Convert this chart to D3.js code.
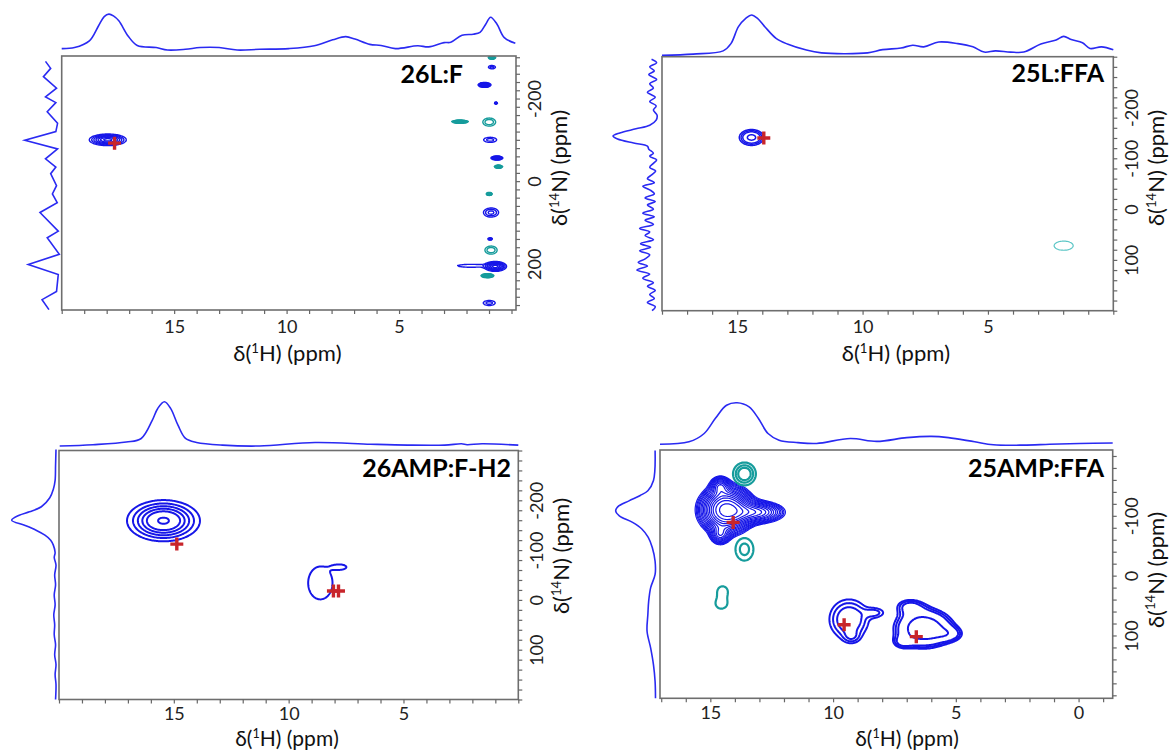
<!DOCTYPE html>
<html>
<head>
<meta charset="utf-8">
<script src="https://cdn.jsdelivr.net/npm/d3@7"></script>
<style>
body { margin: 0; background: #fff; }
svg text { font-family: Lato, "Open Sans", sans-serif; }
</style>
</head>
<body>
<svg id="fig" width="1171" height="751"></svg>
<script>
// ---------- data (ppm, relative intensity) ----------
// projections: [1H ppm, intensity] / [14N ppm, intensity]
var p1Top = [[20,0.02],[19.43,0.05],[18.77,0.24],[18.36,0.67],[18.11,0.93],[17.9,1],[17.7,0.95],[17.46,0.81],[17.05,0.38],[16.64,0.11],[15.8,0.05],[15.3,-0.02],[14.5,0],[13.85,0.05],[13.0,0.05],[12.2,-0.02],[11.2,0],[9.9,0.02],[8.77,0.1],[7.95,0.27],[7.37,0.36],[6.96,0.29],[6.3,0.14],[5.8,0.11],[5.16,0.02],[4.17,0.1],[3.68,0.07],[3.0,0.19],[2.7,0.2],[2.2,0.4],[1.7,0.43],[1.4,0.48],[1.14,0.72],[0.93,0.91],[0.65,0.72],[0.32,0.33],[-0.17,0.17]];
var p1Left = [[-290,0.4],[-273,0.25],[-253,0.46],[-225,0.08],[-204,0.4],[-190,0.1],[-168,0.35],[-140,0.05],[-120,0.1],[-99,1.0],[-78,0.05],[-54,0.4],[-34,0.1],[-18,0.25],[11,0.08],[31,0.2],[52,0.06],[76,0.56],[121,0.03],[137,0.35],[177,0.0],[202,0.9],[226,0.03],[267,0.08],[287,0.5],[311,0.3]];

var p2Top = [[18,0],[16.76,0.03],[15.56,0.11],[15.25,0.29],[14.95,0.71],[14.65,0.92],[14.43,1.0],[14.2,0.92],[13.9,0.71],[13.45,0.42],[13.0,0.28],[12.24,0.13],[11.64,0.06],[10.73,0.04],[9.8,0.06],[9.2,0.14],[8.47,0.18],[8.0,0.25],[7.56,0.21],[6.96,0.33],[6.2,0.29],[5.6,0.21],[5.15,0.08],[4.7,0.11],[4.1,0.08],[3.57,0.08],[2.89,0.28],[2.28,0.38],[1.98,0.47],[1.68,0.39],[1.23,0.31],[0.93,0.17],[0.47,0.21],[0,0.14]];
var p2Left = [[-295,0.16],[-288,0.05],[-280,0.2],[-272,0.1],[-265,0.22],[-255,0.05],[-247,0.2],[-238,0.12],[-230,0.25],[-220,0.08],[-212,0.2],[-203,0.06],[-195,0.12],[-185,0.04],[-175,0.06],[-165,0.2],[-158,0.5],[-150,0.85],[-144,1.0],[-138,0.9],[-130,0.55],[-124,0.25],[-118,0.22],[-110,0.12],[-104,0.2],[-97,0.05],[-90,0.12],[-82,0.2],[-75,0.07],[-68,0.15],[-60,0.25],[-52,0.1],[-45,0.35],[-38,0.2],[-30,0.1],[-22,0.3],[-15,0.08],[-8,0.25],[0,0.12],[8,0.35],[15,0.1],[22,0.3],[30,0.12],[38,0.42],[45,0.2],[52,0.3],[60,0.12],[68,0.4],[75,0.18],[82,0.42],[90,0.2],[98,0.3],[105,0.45],[112,0.25],[120,0.48],[128,0.2],[136,0.35],[145,0.12],[152,0.25],[160,0.08],[168,0.2],[176,0.1],[184,0.25],[192,0.08],[200,0.15]];

var p3Top = [[19.97,0],[18.52,0.03],[17.07,0.09],[16.42,0.17],[15.94,0.58],[15.7,0.85],[15.41,1.0],[15.14,0.85],[14.82,0.47],[14.49,0.17],[14.01,0.08],[12.88,0.02],[11.27,0],[8.85,0.08],[6.43,0.04],[4.81,0.02],[3.2,0.02],[2.47,0.05],[2.23,0.03],[1.58,0.05],[0,0.02]];
var p3Left = [[-302,0.0],[-270,0.01],[-240,0.02],[-222,0.06],[-205,0.14],[-187,0.33],[-177,0.6],[-170,0.83],[-160,1.0],[-150,0.71],[-140,0.45],[-130,0.25],[-120,0.12],[-110,0.06],[-95,0.02],[-85,0.04],[-70,0.0],[-50,0.03],[-30,0.01],[-10,0.04],[10,0.02],[30,0.05],[50,0.03],[70,0.04],[90,0.01],[110,0.03],[130,0.0],[150,0.02],[170,0.0],[200,0.01]];

var p4Top = [[17.05,0],[15.87,0.06],[15.25,0.26],[14.8,0.62],[14.34,0.94],[13.91,1.0],[13.42,0.9],[13.04,0.62],[12.65,0.26],[12.2,0.1],[11.43,0.04],[10.67,0.02],[9.3,0.14],[8.22,0.07],[7.0,0.16],[6.0,0.19],[5.3,0.16],[4.23,0.06],[3.47,-0.01],[2.25,-0.02],[1.18,0],[-0.04,0.02],[-1.39,0.03]];
var p4Left = [[-209,0.02],[-159,0.06],[-142,0.2],[-134,0.39],[-125,0.67],[-115,0.95],[-108,1.0],[-100,0.91],[-89,0.58],[-78,0.35],[-64,0.19],[-47,0.09],[-24,0.02],[-2,0.02],[20,0.13],[43,0.18],[65,0.2],[93,0.22],[121,0.13],[149,0.06],[177,0.02],[205,0.01]];

// cross peaks: [1H ppm, 14N ppm, sigma 1H, sigma 14N, amplitude]
var p1Blue = [[17.95,-100,0.4,6.8,1],[0.87,-276,0.13,3.3,0.25],[1.2,-233,0.14,2.8,1],[0.69,-189,0.04,1.4,0.5],[0.95,-100,0.24,5,0.25],[0.65,-56,0.13,2.3,1],[0.91,76,0.23,7.5,0.35],[0.95,140,0.065,1.4,0.5],[0.72,206.5,0.24,5.8,1],[1.8,205,0.6,3.5,0.2],[0.99,295,0.22,5,0.25]];
var p1Teal = [[0.87,-299,0.08,1.75,1],[2.29,-144,0.18,1.75,1],[0.99,-143,0.21,7.2,0.3],[0.58,-35,0.09,1.75,1],[0.99,31,0.065,1.75,1],[0.91,167,0.2,7.2,0.3],[1.07,229,0.14,2.3,1]];
var p2Blue = [[14.43,-141,0.25,8,1]];
var p2Teal = [[1.98,72,0.195,4.6,1]];
var p3Main = [[15.45,-159,0.74,19.3,1]];
var p3Blob = [[8.62,-34,0.45,28,1],[7.75,-66,0.28,5,0.75]];
var p4Main = [[14.35,-110,0.55,20,1],[13.1,-106,0.6,10,0.45],[14.6,-150,0.22,9,0.3],[14.6,-68,0.22,9,0.3]];
var p4Teal = [[13.61,-170,0.3,12.3,1],[13.61,-44,0.31,16,0.6],[14.5,26,0.22,9,0.45],[14.55,47,0.25,9,0.45]];
var p4Low1 = [[9.35,73,0.48,20,1],[8.3,62,0.3,6,0.45],[9.25,102,0.22,7,0.4]];
var p4Low2 = [[6.3,88,0.8,22,1],[6.9,50,0.45,10,0.35],[5.2,98,0.4,9,0.3],[7.2,112,0.3,8,0.25]];

// contour levels
var p1Levels = [0.12, 0.2, 0.3, 0.42, 0.56, 0.72, 0.9];
var p2Levels = [0.15, 0.25, 0.38, 0.8];
var p2TealLevels = [0.15];
var p3Levels = [0.1, 0.2, 0.32, 0.46, 0.62, 0.95];
var p3BlobLevels = [0.5];
var p4MainLevels = [0.07, 0.085, 0.1, 0.12, 0.14, 0.17, 0.2, 0.24, 0.28, 0.33, 0.39, 0.46, 0.54, 0.63, 0.75, 0.9];
var p4TealLevels = [0.3, 0.5, 0.7];
var p4Low1Levels = [0.25, 0.4, 0.6];
var p4Low2Levels = [0.3, 0.36, 0.43, 0.72];

// calculated positions (red crosses): [1H ppm, 14N ppm]
var p1Marks = [[17.65,-92]];
var p2Marks = [[13.94,-140]];
var p3Marks = [[14.87,-112],[8.05,-18],[7.83,-18]];
var p4Marks = [[14.07,-89],[9.55,82],[6.61,102]];

// tick labels
var p1HLabels = [15,10,5], p1NLabels = [-200,0,200];
var p2HLabels = [15,10,5], p2NLabels = [-200,-100,0,100];
var p3HLabels = [15,10,5], p3NLabels = [-200,-100,0,100];
var p4HLabels = [15,10,5,0], p4NLabels = [-100,0,100];

var titles = ["26L:F", "25L:FFA", "26AMP:F-H2", "25AMP:FFA"];

// ---------- drawing ----------
var svg = d3.select("#fig");
var BLUE = "#1616e8", LINE = "#2a2af2", TEAL = "#169c9c", RED = "#c8252b";

var panels = [
  {box:[61.7,56,516,310], h:[20,-0.2], n:[-303,312], topY:[49.3,14.1], leftX:[59.3,24.8],
   hTicks:d3.range(20,-0.05,-1), nTicks:d3.range(-300,312,20), hLab:p1HLabels, nLab:p1NLabels, pad:6, xfs:22,
   top:p1Top, left:p1Left, leftCurve:d3.curveLinear, marks:p1Marks, title:titles[0], tPos:[463,83], xt:[287.5,361], yt:168,
   groups:[{peaks:p1Blue, levels:p1Levels, color:BLUE, w:1.4},{peaks:p1Teal, levels:p1Levels, color:TEAL, w:1.4}]},
  {box:[662,56.7,1113.3,310.7], h:[18,0], n:[-300,200], topY:[55.3,15], leftX:[658.9,613],
   hTicks:d3.range(18,-0.05,-1), nTicks:d3.range(-300,201,20), hLab:p2HLabels, nLab:p2NLabels, pad:6, xfs:22,
   top:p2Top, left:p2Left, leftCurve:d3.curveCatmullRom, marks:p2Marks, title:titles[1], tPos:[1104,82], xt:[896,361], yt:168,
   groups:[{peaks:p2Blue, levels:p2Levels, color:BLUE, w:1.5},{peaks:p2Teal, levels:p2TealLevels, color:"#5cc6c6", w:1.2}]},
  {box:[59,450.5,518.3,699.5], h:[20,0], n:[-300,200], topY:[446,401.8], leftX:[56,11.7],
   hTicks:d3.range(20,-0.05,-1), nTicks:d3.range(-300,201,20), hLab:p3HLabels, nLab:p3NLabels, pad:4, xfs:21,
   top:p3Top, left:p3Left, leftCurve:d3.curveCatmullRom, marks:p3Marks, title:titles[2], tPos:[511,477], xt:[287,746], yt:556,
   groups:[{peaks:p3Main, levels:p3Levels, color:BLUE, w:2},{peaks:p3Blob, levels:p3BlobLevels, color:BLUE, w:2}]},
  {box:[660,450,1112.7,698.3], h:[17.05,-1.39], n:[-210,205], topY:[444.3,402.8], leftX:[655.9,615.7],
   hTicks:d3.range(17,-1.05,-1), nTicks:d3.range(-200,205,20), hLab:p4HLabels, nLab:p4NLabels, pad:4, xfs:21,
   top:p4Top, left:p4Left, leftCurve:d3.curveCatmullRom, marks:p4Marks, title:titles[3], tPos:[1104,477], xt:[907,746], yt:570,
   groups:[{peaks:p4Main, levels:p4MainLevels, color:BLUE, w:1.2},{peaks:p4Teal, levels:p4TealLevels, color:TEAL, w:2.2},
           {peaks:p4Low1, levels:p4Low1Levels, color:BLUE, w:2},{peaks:p4Low2, levels:p4Low2Levels, color:BLUE, w:2}]}
];

function has(arr, v) {
  return arr.some(function(a){ return Math.abs(a - v) < 1e-6; });
}

function drawContours(g, x, y, box, gr, clipId) {
  var W = Math.round(box[2] - box[0]), H = Math.round(box[3] - box[1]);
  var vals = new Float64Array(W * H);
  gr.peaks.forEach(function(p) {
    for (var j = 0; j < H; j++) {
      var dn = (y.invert(box[1] + j + 0.5) - p[1]) / p[3];
      if (Math.abs(dn) > 5) continue;
      for (var i = 0; i < W; i++) {
        var dh = (x.invert(box[0] + i + 0.5) - p[0]) / p[2];
        if (Math.abs(dh) > 5) continue;
        vals[j * W + i] += p[4] * Math.exp(-0.5 * (dh * dh + dn * dn));
      }
    }
  });
  var cs = d3.contours().size([W, H]).thresholds(gr.levels)(vals);
  g.append("g")
    .attr("clip-path", "url(#" + clipId + ")")
    .append("g")
    .attr("transform", "translate(" + box[0] + "," + box[1] + ")")
    .selectAll("path").data(cs).join("path")
    .attr("d", d3.geoPath())
    .attr("fill", "none")
    .attr("stroke", gr.color)
    .attr("stroke-width", gr.w)
    .attr("stroke-linejoin", "round");
}

function supText(sel, before, sup, after, size) {
  sel.append("tspan").text(before);
  sel.append("tspan").attr("font-size", size * 0.6).attr("dy", -size * 0.38).text(sup);
  sel.append("tspan").attr("dy", size * 0.38).text(after);
}

panels.forEach(function(cfg, k) {
  var b = cfg.box;
  var g = svg.append("g");
  var x = d3.scaleLinear().domain(cfg.h).range([b[0], b[2]]);
  var y = d3.scaleLinear().domain(cfg.n).range([b[1], b[3]]);
  var clipId = "clip" + k;
  svg.append("clipPath").attr("id", clipId).append("rect")
    .attr("x", b[0]).attr("y", b[1]).attr("width", b[2] - b[0]).attr("height", b[3] - b[1]);

  cfg.groups.forEach(function(gr) { drawContours(g, x, y, b, gr, clipId); });

  // calculated positions
  g.selectAll("path.mark").data(cfg.marks).join("path")
    .attr("class", "mark")
    .attr("d", function(d) {
      var cx = x(d[0]), cy = y(d[1]), r = 6.5;
      return "M" + (cx - r) + "," + cy + "H" + (cx + r) + "M" + cx + "," + (cy - r) + "V" + (cy + r);
    })
    .attr("stroke", RED).attr("stroke-width", 3.4).attr("fill", "none");

  // frame
  g.append("rect").attr("x", b[0]).attr("y", b[1]).attr("width", b[2] - b[0]).attr("height", b[3] - b[1])
    .attr("fill", "none").attr("stroke", "#6e6e6e").attr("stroke-width", 1.6);

  // axes
  var xa = g.append("g").attr("transform", "translate(0," + b[3] + ")")
    .call(d3.axisBottom(x).tickValues(cfg.hTicks).tickSize(4).tickPadding(cfg.pad)
      .tickFormat(function(d) { return has(cfg.hLab, d) ? String(Math.round(d)) : ""; }));
  var ya = g.append("g").attr("transform", "translate(" + b[2] + ",0)")
    .call(d3.axisRight(y).tickValues(cfg.nTicks).tickSize(4)
      .tickFormat(function(d) { return has(cfg.nLab, d) ? String(Math.round(d)) : ""; }));
  [xa, ya].forEach(function(a) {
    a.select(".domain").remove();
    a.selectAll(".tick line").attr("stroke", "#666").attr("stroke-width", 1.2);
    a.selectAll(".tick text").attr("fill", "#222").attr("font-size", 18);
  });
  ya.selectAll(".tick text")
    .attr("x", null).attr("dy", null)
    .attr("transform", "translate(18,0) rotate(-90)")
    .attr("text-anchor", "middle")
    .attr("dominant-baseline", "central");

  // axis titles
  var xt = g.append("text").attr("x", cfg.xt[0]).attr("y", cfg.xt[1])
    .attr("text-anchor", "middle").attr("font-size", cfg.xfs).attr("fill", "#111");
  supText(xt, "δ(", "1", "H) (ppm)", cfg.xfs);
  var yt = g.append("text").attr("transform", "translate(" + (b[2] + 51) + "," + cfg.yt + ") rotate(-90)")
    .attr("text-anchor", "middle").attr("font-size", 22).attr("fill", "#111");
  supText(yt, "δ(", "14", "N) (ppm)", 22);

  // projections
  var ty = d3.scaleLinear().domain([0, 1]).range(cfg.topY);
  var lx = d3.scaleLinear().domain([0, 1]).range(cfg.leftX);
  g.append("path").datum(cfg.top)
    .attr("d", d3.line().x(function(d) { return x(d[0]); }).y(function(d) { return ty(d[1]); }).curve(d3.curveCatmullRom))
    .attr("fill", "none").attr("stroke", LINE).attr("stroke-width", 1.6);
  g.append("path").datum(cfg.left)
    .attr("d", d3.line().x(function(d) { return lx(d[1]); }).y(function(d) { return y(d[0]); }).curve(cfg.leftCurve))
    .attr("fill", "none").attr("stroke", LINE).attr("stroke-width", 1.6);

  // sample label
  g.append("text").attr("x", cfg.tPos[0]).attr("y", cfg.tPos[1])
    .attr("text-anchor", "end").attr("font-size", 25).attr("font-weight", "bold").attr("fill", "#000")
    .text(cfg.title);
});
</script>
</body>
</html>
